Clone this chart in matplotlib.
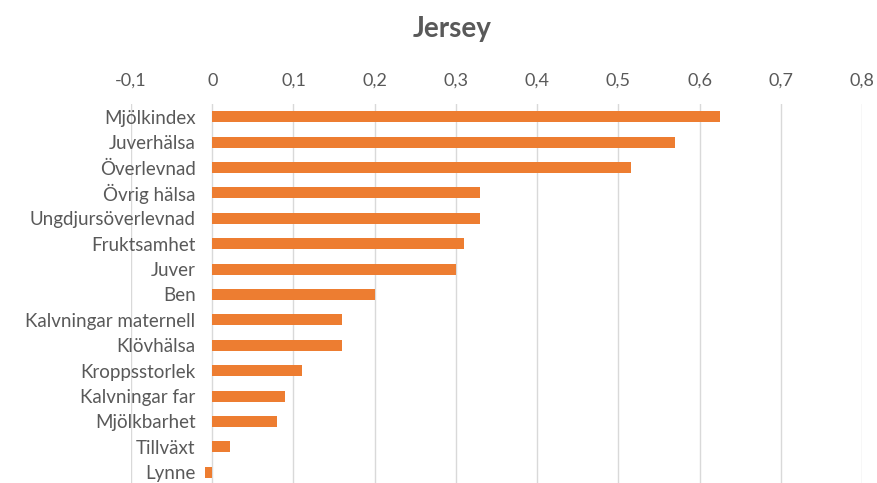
import numpy as np
import matplotlib
matplotlib.use("Agg")
from matplotlib import pyplot as plt
from matplotlib.ticker import FuncFormatter

# data
categories = ["Mjölkindex", "Juverhälsa", "Överlevnad", "Övrig hälsa",
              "Ungdjursöverlevnad", "Fruktsamhet", "Juver", "Ben",
              "Kalvningar maternell", "Klövhälsa", "Kroppsstorlek",
              "Kalvningar far", "Mjölkbarhet", "Tillväxt", "Lynne"]
values = [0.625, 0.57, 0.515, 0.33, 0.33, 0.31, 0.30, 0.20,
          0.16, 0.16, 0.11, 0.09, 0.08, 0.022, -0.009]
xticks = [-0.1, 0, 0.1, 0.2, 0.3, 0.4, 0.5, 0.6, 0.7, 0.8]

plt.rcParams['font.family'] = ['Lato', 'DejaVu Sans']
txt = '#595959'

fig = plt.figure(figsize=(8.77, 4.83), dpi=100)
ax = fig.add_axes([131/877, -2/483, (862-131)/877, 381/483])

y = np.arange(len(categories))
ax.barh(y, values, height=0.43, color='#ED7D31', zorder=3)
# category labels sit next to the zero line, like Excel
ax.spines['left'].set_position(('data', 0))
ax.set_ylim(len(categories) - 0.5, -0.5)
ax.set_xlim(-0.1, 0.8)
ax.set_yticks(y)
ax.set_yticklabels(categories, fontsize=13.5, color=txt)
ax.set_xticks(xticks)
ax.xaxis.set_major_formatter(FuncFormatter(
    lambda v, p: ('%g' % round(v, 1)).replace('.', ',')))
ax.xaxis.tick_top()
ax.tick_params(axis='x', labelsize=13, colors=txt, length=0, pad=11)
ax.tick_params(axis='y', length=0, pad=12)
ax.grid(axis='x', color='#D9D9D9', linewidth=1, zorder=0)
for s in ax.spines.values():
    s.set_visible(False)

fig.text(0.516, 0.94, "Jersey", ha='center', va='center', fontsize=20,
         fontweight='bold', color=txt)

fig.savefig("out.png", dpi=100)
